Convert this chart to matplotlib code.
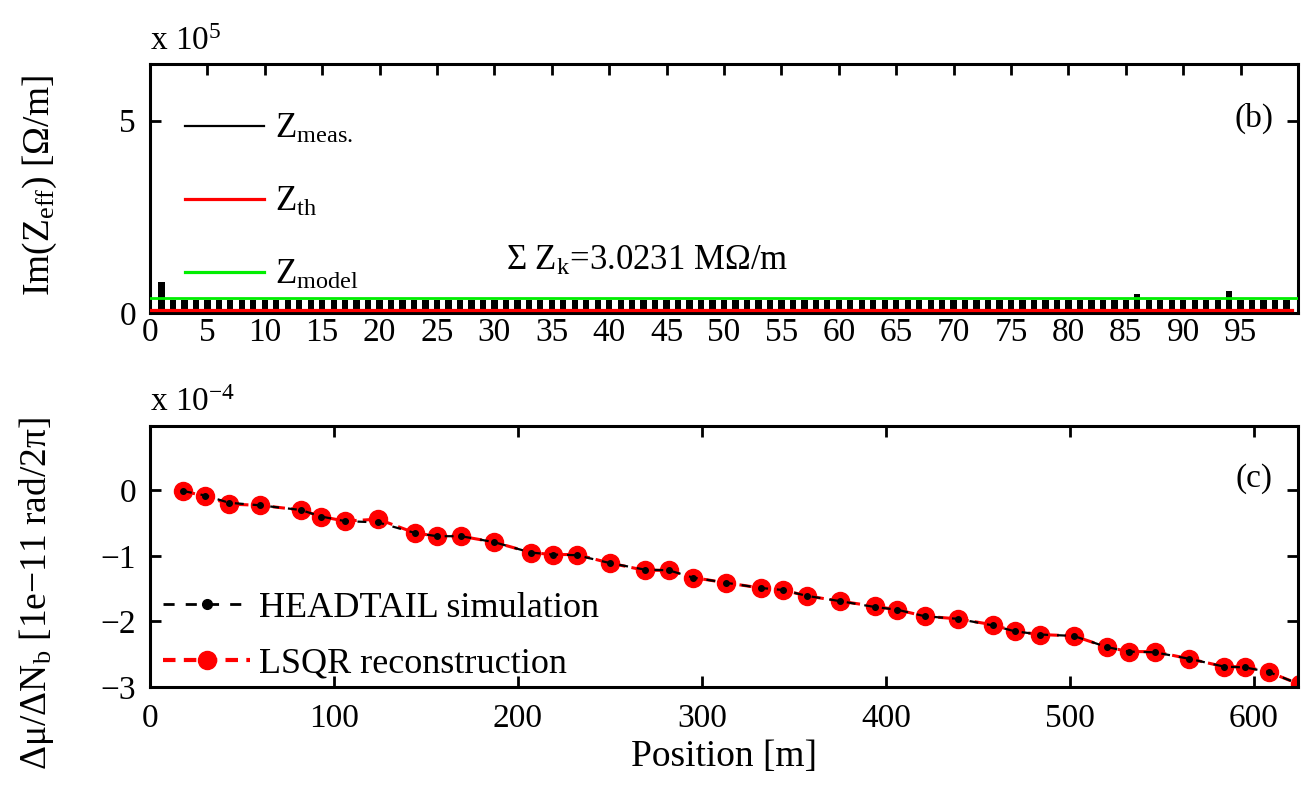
import numpy as np
import matplotlib
matplotlib.use("Agg")
import matplotlib.pyplot as plt
from matplotlib.lines import Line2D

plt.rcParams['font.family'] = ['Liberation Serif', 'DejaVu Serif']
plt.rcParams['mathtext.fontset'] = 'custom'
plt.rcParams['mathtext.rm'] = 'Liberation Serif'
plt.rcParams['mathtext.it'] = 'Liberation Serif:italic'
plt.rcParams['axes.linewidth'] = 2.2

# ---- panel (b): effective impedance per element (units of 1e5 Ohm/m)
element = list(range(1, 100))
z_meas = [0.80, 0.35, 0.35, 0.35, 0.35, 0.35, 0.35, 0.35, 0.35, 0.35,
          0.35, 0.35, 0.35, 0.35, 0.35, 0.35, 0.35, 0.35, 0.35, 0.35,
          0.35, 0.35, 0.35, 0.35, 0.35, 0.35, 0.35, 0.35, 0.35, 0.35,
          0.35, 0.35, 0.35, 0.35, 0.35, 0.35, 0.35, 0.35, 0.35, 0.35,
          0.35, 0.35, 0.35, 0.35, 0.35, 0.35, 0.35, 0.35, 0.35, 0.35,
          0.35, 0.35, 0.35, 0.35, 0.35, 0.35, 0.35, 0.35, 0.35, 0.35,
          0.35, 0.35, 0.35, 0.35, 0.35, 0.35, 0.35, 0.35, 0.35, 0.35,
          0.35, 0.35, 0.35, 0.35, 0.35, 0.35, 0.35, 0.35, 0.35, 0.35,
          0.35, 0.35, 0.35, 0.35, 0.35, 0.50, 0.35, 0.35, 0.35, 0.35,
          0.35, 0.35, 0.35, 0.57, 0.35, 0.35, 0.35, 0.35, 0.35]
z_th = 0.08
z_model = 0.39
sum_zk = "3.0231"

# ---- panel (c): phase advance shift vs position (units of 1e-4)
pos = [18, 30, 43, 60, 82, 93, 106, 124, 144, 156, 169, 187, 207, 219, 232,
       250, 269, 282, 295, 313, 332, 344, 357, 375, 394, 406, 421, 439, 458,
       470, 484, 502, 520, 532, 546, 565, 584, 595, 608, 625]
mu_headtail = [-0.01, -0.08, -0.19, -0.23, -0.30, -0.40, -0.47, -0.49, -0.65,
               -0.70, -0.70, -0.79, -0.95, -0.98, -0.99, -1.11, -1.21, -1.22,
               -1.33, -1.41, -1.49, -1.52, -1.61, -1.69, -1.78, -1.82, -1.92,
               -1.96, -2.06, -2.15, -2.20, -2.22, -2.39, -2.46, -2.47, -2.57,
               -2.69, -2.70, -2.77, -2.96]
mu_lsqr = [-0.01, -0.09, -0.21, -0.23, -0.30, -0.40, -0.47, -0.44, -0.65,
           -0.70, -0.70, -0.79, -0.95, -0.98, -0.98, -1.11, -1.22, -1.22,
           -1.33, -1.41, -1.49, -1.52, -1.61, -1.69, -1.77, -1.82, -1.92,
           -1.96, -2.05, -2.15, -2.20, -2.22, -2.39, -2.46, -2.46, -2.57,
           -2.69, -2.69, -2.77, -2.96]

fig = plt.figure(figsize=(13.03, 7.85), dpi=100)
ax_z = fig.add_axes([0.1151, 0.6013, 0.8811, 0.3172])
ax_mu = fig.add_axes([0.1151, 0.1248, 0.8811, 0.3325])

tick_kw = dict(direction='in', top=True, right=True, length=8, width=2,
               labelsize=24)

# Panel (b)
ax_z.bar(element, z_meas, width=0.55, color='black', zorder=2)
ax_z.plot([0, element[-1] + 0.5], [z_th, z_th], color='red', lw=2.3, zorder=3)
ax_z.plot([0, 100], [z_model, z_model], color='#00ee00', lw=2.0, zorder=3)
ax_z.set_xlim(0, 100)
ax_z.set_ylim(0, 6.47)
ax_z.set_xticks(range(0, 100, 5))
ax_z.set_yticks([0, 5])
ax_z.tick_params(axis='both', pad=3, **tick_kw)
ax_z.tick_params(axis='y', pad=10)
ax_z.set_ylabel(r"Im(Z$_{\mathrm{eff}}$) [Ω/m]", fontsize=27)
ax_z.yaxis.set_label_coords(-0.079, 0.51)
ax_z.text(0.0, 1.03, r"x 10$^{5}$", transform=ax_z.transAxes, fontsize=24,
          va='bottom', ha='left')
ax_z.text(0.962, 0.78, "(b)", transform=ax_z.transAxes, fontsize=24,
          ha='center', va='center')
ax_z.text(0.31, 0.14, r"Σ Z$_{\mathrm{k}}$=" + sum_zk + " MΩ/m",
          transform=ax_z.transAxes, fontsize=25, ha='left', va='bottom')

handles_z = [Line2D([], [], color='black', lw=1.6),
             Line2D([], [], color='red', lw=2.3),
             Line2D([], [], color='#00ee00', lw=2.3)]
labels_z = [r"Z$_{\mathrm{meas.}}$", r"Z$_{\mathrm{th}}$", r"Z$_{\mathrm{model}}$"]
ax_z.legend(handles_z, labels_z, loc='upper left', bbox_to_anchor=(0.018, 0.86),
            frameon=False, fontsize=25, handlelength=2.3, handletextpad=0.3,
            labelspacing=1.15, borderaxespad=0)

# Panel (c)
ax_mu.plot(pos, mu_lsqr, color='red', ls=(0, (4, 2)), lw=2.2, marker='o',
           ms=13, mec='red', mfc='red', zorder=2)
ax_mu.plot(pos, mu_headtail, color='black', ls=(0, (4, 4)), lw=1.6,
           marker='o', ms=4, zorder=3)
ax_mu.set_xlim(0, 624)
ax_mu.set_ylim(-3, 0.98)
ax_mu.set_xticks(range(0, 700, 100))
ax_mu.set_yticks([-3, -2, -1, 0])
ax_mu.tick_params(axis='both', pad=12, **tick_kw)
ax_mu.tick_params(axis='y', pad=10)
ax_mu.set_xlabel("Position [m]", fontsize=27, labelpad=4)
ax_mu.set_ylabel(r"Δμ/ΔN$_{\mathrm{b}}$ [1e−11 rad/2π]", fontsize=27)
ax_mu.yaxis.set_label_coords(-0.082, 0.36)
ax_mu.text(0.0, 1.03, r"x 10$^{-4}$", transform=ax_mu.transAxes, fontsize=24,
           va='bottom', ha='left')
ax_mu.text(0.962, 0.8, "(c)", transform=ax_mu.transAxes, fontsize=24,
           ha='center', va='center')

handles_mu = [Line2D([], [], color='black', ls=(0, (4, 4)), lw=2, marker='o',
                     ms=7),
              Line2D([], [], color='red', ls=(0, (3, 2)), lw=3, marker='o',
                     ms=13)]
ax_mu.legend(handles_mu, ["HEADTAIL simulation", "LSQR reconstruction"],
             loc='lower left', bbox_to_anchor=(-0.004, -0.045), frameon=False,
             fontsize=26, handlelength=2.4, handletextpad=0.25,
             labelspacing=0.62, borderaxespad=0.1)

fig.savefig("out.png", dpi=100)
